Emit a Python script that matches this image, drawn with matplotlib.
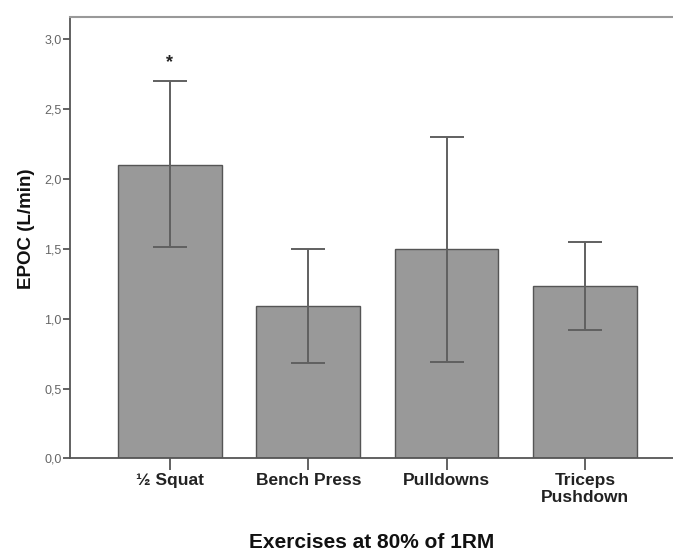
import numpy as np
import matplotlib
matplotlib.use("Agg")
import matplotlib.pyplot as plt
from matplotlib.ticker import FuncFormatter

plt.rcParams['font.family'] = ['Liberation Sans', 'DejaVu Sans']

# data
exercises = ["½ Squat", "Bench Press", "Pulldowns", "Triceps\nPushdown"]
epoc_mean = [2.10, 1.09, 1.50, 1.23]
err_upper = [2.70, 1.50, 2.30, 1.55]
err_lower = [1.51, 0.68, 0.69, 0.92]
significant = [True, False, False, False]

mean = np.array(epoc_mean)
yerr = np.array([mean - np.array(err_lower), np.array(err_upper) - mean])
x = np.arange(len(exercises))

fig = plt.figure(figsize=(6.73, 5.53), dpi=100)
ax = fig.add_axes([0.104, 0.171, 0.896, 0.798])

ax.bar(x, mean, width=0.75, color="#999999", edgecolor="#555555", linewidth=1.0, zorder=2)
ax.errorbar(x, mean, yerr=yerr, fmt="none", ecolor="#606060", elinewidth=1.4,
            capsize=12, capthick=1.4, zorder=3)

# asterisk above significant bars
for xi, up, sig in zip(x, err_upper, significant):
  if sig:
    ax.text(xi, up + 0.07, "*", ha="center", va="bottom", fontsize=13,
            fontweight="bold", color="#222222")

ax.set_xlim(-0.723, 3.637)
ax.set_ylim(0, 3.156)
ax.set_yticks(np.arange(0, 3.01, 0.5))
ax.yaxis.set_major_formatter(FuncFormatter(lambda v, p: f"{v:.1f}".replace(".", ",")))
ax.set_xticks(x)
ax.set_xticklabels(exercises, fontsize=12.5, fontweight="bold", color="#222222", linespacing=1.15)

ax.tick_params(axis="y", length=5, width=1.3, color="#555555", labelsize=9, labelcolor="#666666", pad=1)
ax.tick_params(axis="x", length=8.5, width=1.3, color="#555555", pad=2)

for side in ["left", "bottom"]:
  ax.spines[side].set_color("#555555")
  ax.spines[side].set_linewidth(1.3)
ax.spines["top"].set_color("#999999")
ax.spines["top"].set_linewidth(1.5)
ax.spines["right"].set_visible(False)

ax.set_ylabel("EPOC (L/min)", fontsize=13.5, fontweight="bold", color="#111111")
ax.yaxis.set_label_coords(-0.058, 0.52)
ax.set_xlabel("Exercises at 80% of 1RM", fontsize=15, fontweight="bold", color="#111111")
ax.xaxis.set_label_coords(0.5, -0.17)

fig.savefig("out.png", dpi=100, facecolor="white")
